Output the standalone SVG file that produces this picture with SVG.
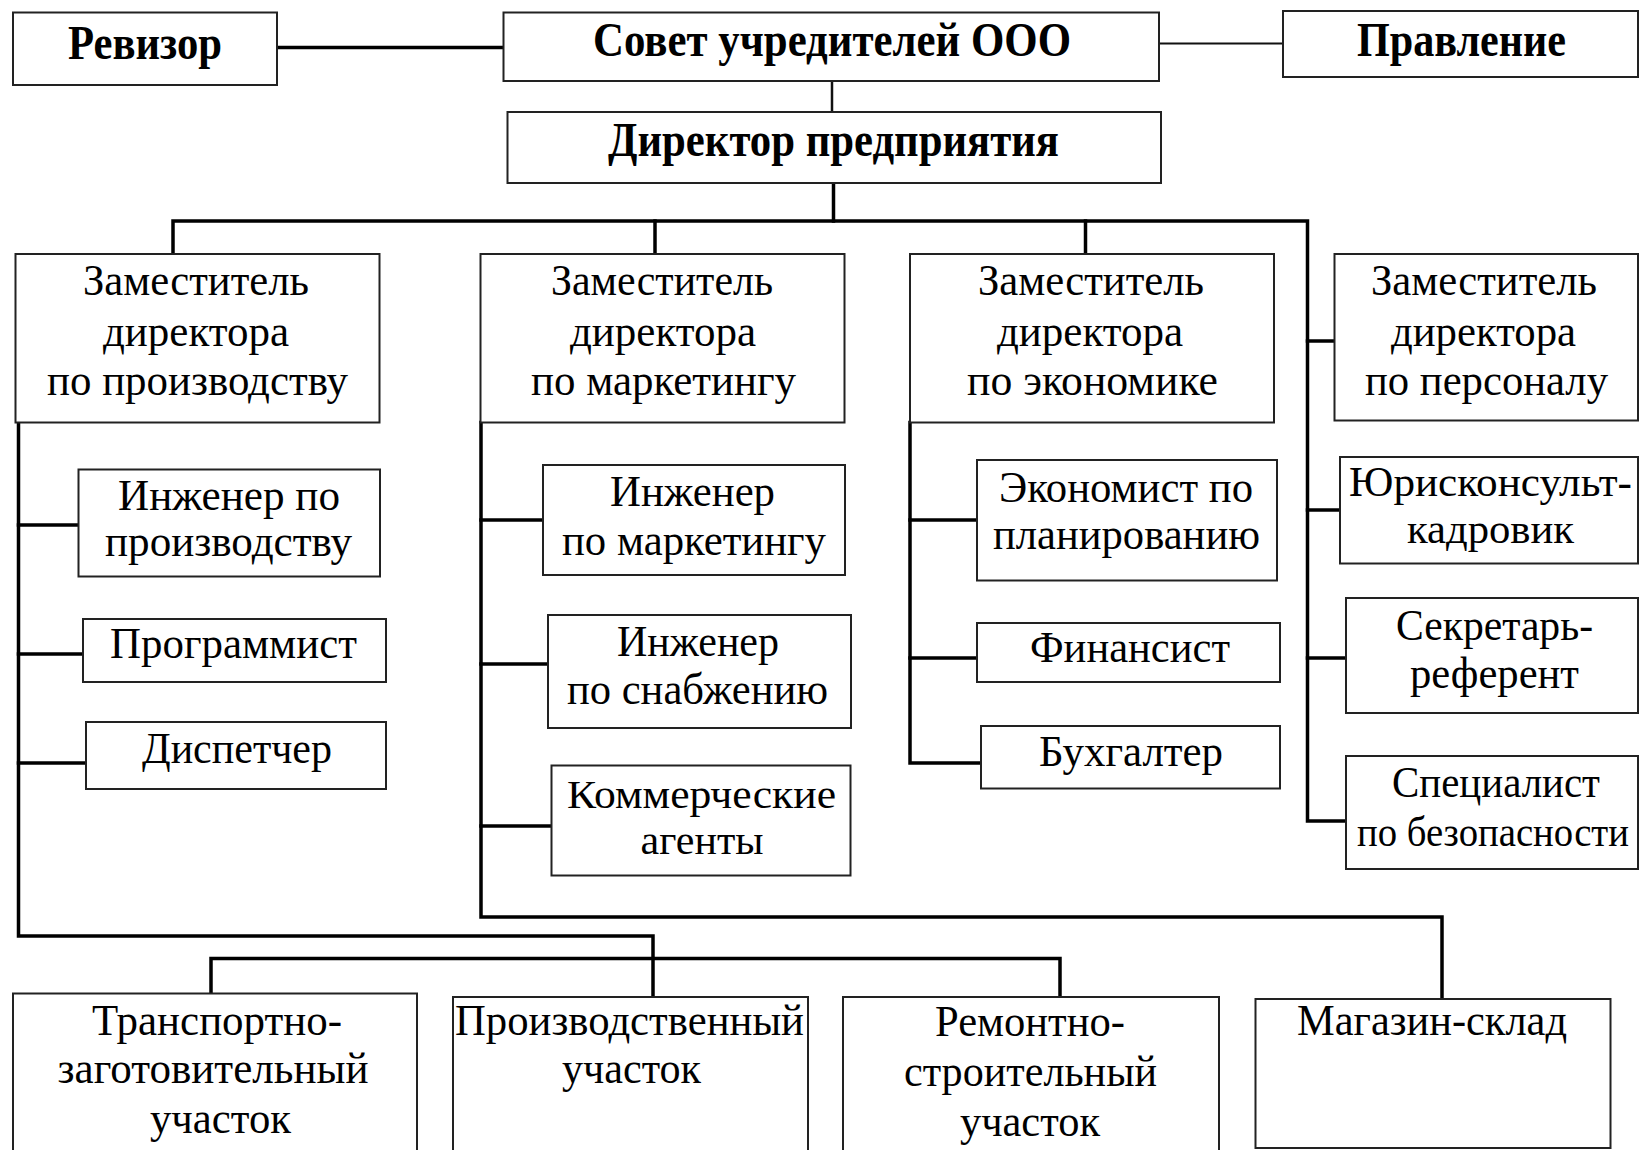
<svg xmlns="http://www.w3.org/2000/svg" width="1640" height="1150" viewBox="0 0 1640 1150">
  <style>
    .box { fill: #ffffff; stroke: #222222; stroke-width: 2; }
    .t { font-family: "Liberation Serif", "Times New Roman", serif; font-size: 45px; fill: #000000; }
    .ts { font-size: 41px; }
    .tm { font-size: 42px; }
    .tb { font-family: "Liberation Serif", "Times New Roman", serif; font-size: 48px; font-weight: bold; fill: #000000; }
    .thick { fill: none; stroke: #000000; stroke-width: 3.5; stroke-linejoin: miter; stroke-linecap: square; }
    .thin { fill: none; stroke: #111111; stroke-width: 2; }
  </style>
  <rect width="1640" height="1150" fill="#ffffff"/>

  <!-- connectors -->
  <g id="connectors">
    <path class="thick" d="M277 47.5 H503.5"/>
    <path class="thin" d="M1159 43.5 H1283"/>
    <path class="thin" d="M832 80.5 V112" style="stroke-width:2.5"/>
    <path class="thick" d="M833.5 183 V221"/>
    <path class="thick" d="M173 254 V221 H1307.5 V821 H1346"/>
    <path class="thick" d="M655 221 V254"/>
    <path class="thick" d="M1085.5 221 V254"/>
    <path class="thick" d="M1307.5 341 H1334.5"/>
    <path class="thick" d="M1307.5 510 H1340"/>
    <path class="thick" d="M1307.5 658 H1346"/>
    <path class="thick" d="M18.5 422.5 V936 H653 V997"/>
    <path class="thick" d="M18.5 525 H78.5"/>
    <path class="thick" d="M18.5 654 H83"/>
    <path class="thick" d="M18.5 763 H86"/>
    <path class="thick" d="M481 422.5 V917 H1442 V999"/>
    <path class="thick" d="M481 520 H543"/>
    <path class="thick" d="M481 664 H548"/>
    <path class="thick" d="M481 826 H551.5"/>
    <path class="thick" d="M910 422.5 V763 H981"/>
    <path class="thick" d="M910 520 H977"/>
    <path class="thick" d="M910 658 H977"/>
    <path class="thick" d="M211 993.5 V958.5 H1060 V997"/>
  </g>

  <!-- top level -->
  <g id="revizor">
    <rect class="box" x="13" y="12.5" width="264" height="72.5"/>
    <text class="tb" x="68" y="59" textLength="154" lengthAdjust="spacingAndGlyphs">Ревизор</text>
  </g>
  <g id="sovet">
    <rect class="box" x="503.5" y="12.5" width="655.5" height="68.5"/>
    <text class="tb" x="593" y="56" textLength="478" lengthAdjust="spacingAndGlyphs">Совет учредителей ООО</text>
  </g>
  <g id="pravlenie">
    <rect class="box" x="1283" y="11" width="355" height="66"/>
    <text class="tb" x="1357" y="56" textLength="209" lengthAdjust="spacingAndGlyphs">Правление</text>
  </g>
  <g id="direktor">
    <rect class="box" x="507.5" y="112" width="653.5" height="71"/>
    <text class="tb" x="608" y="156" textLength="451" lengthAdjust="spacingAndGlyphs">Директор предприятия</text>
  </g>

  <!-- deputies -->
  <g id="zam-proizvodstvo">
    <rect class="box" x="15.5" y="254" width="364" height="168.5"/>
    <text class="t" x="83" y="295" textLength="226" lengthAdjust="spacingAndGlyphs">Заместитель</text>
    <text class="t" x="103" y="346" textLength="186" lengthAdjust="spacingAndGlyphs">директора</text>
    <text class="t" x="47" y="395" textLength="301" lengthAdjust="spacingAndGlyphs">по производству</text>
  </g>
  <g id="zam-marketing">
    <rect class="box" x="480.5" y="254" width="364" height="168.5"/>
    <text class="t" x="551" y="295" textLength="222" lengthAdjust="spacingAndGlyphs">Заместитель</text>
    <text class="t" x="570" y="346" textLength="186" lengthAdjust="spacingAndGlyphs">директора</text>
    <text class="t" x="531" y="395" textLength="265" lengthAdjust="spacingAndGlyphs">по маркетингу</text>
  </g>
  <g id="zam-ekonomika">
    <rect class="box" x="910" y="254" width="364" height="168.5"/>
    <text class="t" x="978" y="295" textLength="226" lengthAdjust="spacingAndGlyphs">Заместитель</text>
    <text class="t" x="997" y="346" textLength="186" lengthAdjust="spacingAndGlyphs">директора</text>
    <text class="t" x="967" y="395" textLength="251" lengthAdjust="spacingAndGlyphs">по экономике</text>
  </g>
  <g id="zam-personal">
    <rect class="box" x="1334.5" y="254" width="303.5" height="166.5"/>
    <text class="t" x="1371" y="295" textLength="226" lengthAdjust="spacingAndGlyphs">Заместитель</text>
    <text class="t" x="1391" y="346" textLength="185" lengthAdjust="spacingAndGlyphs">директора</text>
    <text class="t" x="1365" y="395" textLength="243" lengthAdjust="spacingAndGlyphs">по персоналу</text>
  </g>

  <!-- production staff -->
  <g id="inzh-proizvodstvo">
    <rect class="box" x="78.5" y="469.5" width="301.5" height="107"/>
    <text class="t" x="118" y="510" textLength="222" lengthAdjust="spacingAndGlyphs">Инженер по</text>
    <text class="t" x="105" y="556" textLength="247" lengthAdjust="spacingAndGlyphs">производству</text>
  </g>
  <g id="programmist">
    <rect class="box" x="83" y="619" width="303" height="63"/>
    <text class="t" x="110" y="658" textLength="247" lengthAdjust="spacingAndGlyphs">Программист</text>
  </g>
  <g id="dispetcher">
    <rect class="box" x="86" y="722" width="300" height="67"/>
    <text class="t" x="142" y="763" textLength="190" lengthAdjust="spacingAndGlyphs">Диспетчер</text>
  </g>

  <!-- marketing staff -->
  <g id="inzh-marketing">
    <rect class="box" x="543" y="465" width="302" height="110"/>
    <text class="t" x="610" y="506" textLength="165" lengthAdjust="spacingAndGlyphs">Инженер</text>
    <text class="t" x="562" y="555" textLength="264" lengthAdjust="spacingAndGlyphs">по маркетингу</text>
  </g>
  <g id="inzh-snabzhenie">
    <rect class="box" x="548" y="615" width="303" height="113"/>
    <text class="t" x="617" y="656" textLength="162" lengthAdjust="spacingAndGlyphs">Инженер</text>
    <text class="t" x="567" y="704" textLength="261" lengthAdjust="spacingAndGlyphs">по снабжению</text>
  </g>
  <g id="agenty">
    <rect class="box" x="551.5" y="765.5" width="299" height="110"/>
    <text class="t ts" x="567" y="808" textLength="269" lengthAdjust="spacingAndGlyphs">Коммерческие</text>
    <text class="t ts" x="640.5" y="854" textLength="123" lengthAdjust="spacingAndGlyphs">агенты</text>
  </g>

  <!-- economics staff -->
  <g id="ekonomist">
    <rect class="box" x="977" y="460" width="300" height="120.5"/>
    <text class="t" x="999" y="502" textLength="254" lengthAdjust="spacingAndGlyphs">Экономист по</text>
    <text class="t" x="993" y="549" textLength="267" lengthAdjust="spacingAndGlyphs">планированию</text>
  </g>
  <g id="finansist">
    <rect class="box" x="977" y="623" width="303" height="59"/>
    <text class="t" x="1030" y="662" textLength="200" lengthAdjust="spacingAndGlyphs">Финансист</text>
  </g>
  <g id="buhgalter">
    <rect class="box" x="981" y="726" width="299" height="62.5"/>
    <text class="t" x="1039" y="766" textLength="184" lengthAdjust="spacingAndGlyphs">Бухгалтер</text>
  </g>

  <!-- personnel staff -->
  <g id="yuriskonsult">
    <rect class="box" x="1340" y="457" width="298" height="106.5"/>
    <text class="t tm" x="1349" y="496" textLength="283" lengthAdjust="spacingAndGlyphs">Юрисконсульт-</text>
    <text class="t tm" x="1407" y="543" textLength="167" lengthAdjust="spacingAndGlyphs">кадровик</text>
  </g>
  <g id="sekretar">
    <rect class="box" x="1346" y="598" width="292" height="115"/>
    <text class="t" x="1396" y="640" textLength="197" lengthAdjust="spacingAndGlyphs">Секретарь-</text>
    <text class="t" x="1410" y="688" textLength="169" lengthAdjust="spacingAndGlyphs">референт</text>
  </g>
  <g id="bezopasnost">
    <rect class="box" x="1346" y="756" width="292" height="113"/>
    <text class="t" x="1392" y="797" textLength="208" lengthAdjust="spacingAndGlyphs" style="font-size:44px">Специалист</text>
    <text class="t" x="1629" y="846" text-anchor="end" textLength="272" lengthAdjust="spacingAndGlyphs" style="font-size:43px">по безопасности</text>
  </g>

  <!-- sites -->
  <g id="transport">
    <rect class="box" x="13" y="993.5" width="404" height="170"/>
    <text class="t" x="92" y="1035" textLength="250" lengthAdjust="spacingAndGlyphs">Транспортно-</text>
    <text class="t" x="57.5" y="1083" textLength="311" lengthAdjust="spacingAndGlyphs">заготовительный</text>
    <text class="t" x="150" y="1133" textLength="141" lengthAdjust="spacingAndGlyphs">участок</text>
  </g>
  <g id="proizvodstvennyi">
    <rect class="box" x="453" y="997" width="355" height="170"/>
    <text class="t" x="455" y="1035" textLength="349" lengthAdjust="spacingAndGlyphs">Производственный</text>
    <text class="t" x="562" y="1083" textLength="139" lengthAdjust="spacingAndGlyphs">участок</text>
  </g>
  <g id="remont">
    <rect class="box" x="843" y="997" width="376" height="170"/>
    <text class="t" x="935" y="1036" textLength="190" lengthAdjust="spacingAndGlyphs">Ремонтно-</text>
    <text class="t" x="904" y="1086" textLength="253" lengthAdjust="spacingAndGlyphs">строительный</text>
    <text class="t" x="960" y="1136" textLength="140" lengthAdjust="spacingAndGlyphs">участок</text>
  </g>
  <g id="magazin">
    <rect class="box" x="1255.5" y="999" width="355" height="149"/>
    <text class="t" x="1297" y="1035" textLength="270" lengthAdjust="spacingAndGlyphs">Магазин-склад</text>
  </g>
</svg>
